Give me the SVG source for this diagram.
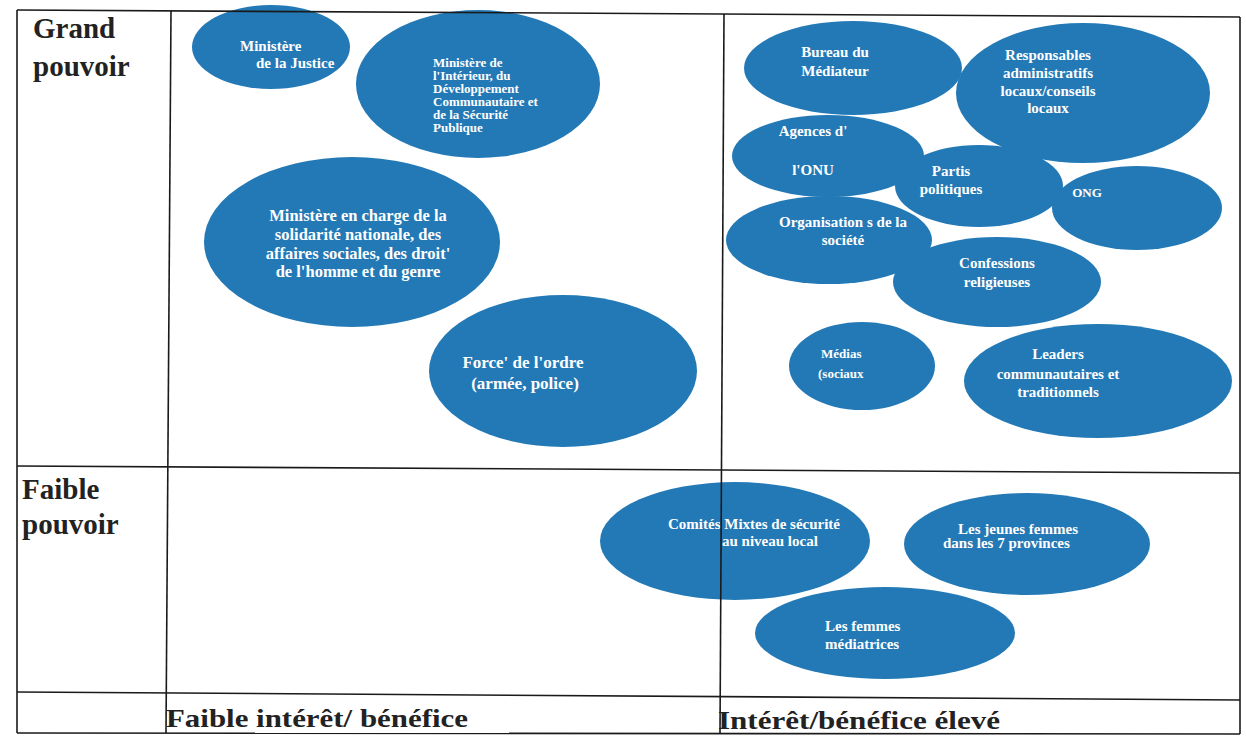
<svg xmlns="http://www.w3.org/2000/svg" width="1246" height="737" viewBox="0 0 1246 737">
<style>
.n{fill:#2379b5}
.t{fill:#fff;font-family:"Liberation Serif","Times New Roman","DejaVu Serif",serif;font-weight:bold;font-size:15px}
.c{text-anchor:middle}
.s13{font-size:13px}
.s16{font-size:16.5px}
.s17{font-size:17px}
.h{fill:#222;font-family:"Liberation Serif","Times New Roman","DejaVu Serif",serif;font-weight:bold;font-size:29px}
.f{fill:#222;font-family:"Liberation Serif","Times New Roman","DejaVu Serif",serif;font-weight:bold;font-size:25px}
.g line{stroke:#1a1a1a;stroke-width:1.6}
</style>
<rect width="1246" height="737" fill="#fff"/>
<g id="n1"><ellipse class="n" cx="271" cy="47" rx="79" ry="42"/><text class="t" x="240" y="51">Ministère</text><text class="t" x="256" y="68">de la Justice</text></g>
<g id="n2"><ellipse class="n" cx="478" cy="84" rx="122" ry="74"/><text class="t s13" x="433" y="67">Ministère  de</text><text class="t s13" x="433" y="80">l'Intérieur, du</text><text class="t s13" x="433" y="93">Développement</text><text class="t s13" x="433" y="106">Communautaire et</text><text class="t s13" x="433" y="119">de la Sécurité</text><text class="t s13" x="433" y="132">Publique</text></g>
<g id="n3"><ellipse class="n" cx="352" cy="242" rx="148" ry="85"/><text class="t c s16" x="358" y="221">Ministère en charge de la</text><text class="t c s16" x="358" y="240">solidarité nationale, des</text><text class="t c s16" x="358" y="259">affaires sociales, des droit'</text><text class="t c s16" x="358" y="277">de l'homme et du genre</text></g>
<g id="n4"><ellipse class="n" cx="563" cy="371" rx="134" ry="76"/><text class="t c s17" x="523" y="368">Force' de l'ordre</text><text class="t c s17" x="525" y="389">(armée, police)</text></g>
<g id="n5"><ellipse class="n" cx="853" cy="68" rx="109" ry="47"/><text class="t c" x="835" y="57">Bureau du</text><text class="t c" x="835" y="76">Médiateur</text></g>
<g id="n6"><ellipse class="n" cx="1083" cy="93" rx="127" ry="70"/><text class="t c" x="1048" y="60">Responsables</text><text class="t c" x="1048" y="78">administratifs</text><text class="t c" x="1048" y="96">locaux/conseils</text><text class="t c" x="1048" y="113">locaux</text></g>
<g id="n7"><ellipse class="n" cx="828" cy="156" rx="96" ry="41"/><text class="t c" x="813" y="136">Agences d'</text><text class="t c" x="813" y="175">l'ONU</text></g>
<g id="n8"><ellipse class="n" cx="979" cy="186" rx="84" ry="41"/><text class="t c" x="951" y="176">Partis</text><text class="t c" x="951" y="194">politiques</text></g>
<g id="n9"><ellipse class="n" cx="1137" cy="208" rx="85" ry="42"/><text class="t c s13" x="1087" y="197">ONG</text></g>
<g id="n10"><ellipse class="n" cx="829" cy="240" rx="103" ry="44"/><text class="t c" x="843" y="227">Organisation s de la</text><text class="t c" x="843" y="245">société</text></g>
<g id="n11"><ellipse class="n" cx="997" cy="282" rx="104" ry="45"/><text class="t c" x="997" y="268">Confessions</text><text class="t c" x="997" y="287">religieuses</text></g>
<g id="n12"><ellipse class="n" cx="862" cy="366" rx="73" ry="44"/><text class="t s13" x="821" y="358">Médias</text><text class="t s13" x="818" y="378">(sociaux</text></g>
<g id="n13"><ellipse class="n" cx="1098" cy="381" rx="134" ry="57"/><text class="t c" x="1058" y="359">Leaders</text><text class="t c" x="1058" y="379">communautaires et</text><text class="t c" x="1058" y="397">traditionnels</text></g>
<g id="n14"><ellipse class="n" cx="735" cy="541" rx="135" ry="59"/><text class="t" x="668" y="529">Comités Mixtes de sécurité</text><text class="t" x="722" y="546">au niveau local</text></g>
<g id="n15"><ellipse class="n" cx="1027" cy="544" rx="123" ry="51"/><text class="t" x="958" y="534">Les jeunes femmes</text><text class="t" x="943" y="548">dans les 7 provinces</text></g>
<g id="n16"><ellipse class="n" cx="885" cy="633" rx="130" ry="46"/><text class="t" x="825" y="631">Les femmes</text><text class="t" x="825" y="649">médiatrices</text></g>
<g id="grid" class="g">
<line x1="17" y1="10" x2="1240" y2="17"/>
<line x1="17" y1="466" x2="1240" y2="473"/>
<line x1="17" y1="692" x2="1240" y2="700"/>
<line x1="17" y1="733" x2="1240" y2="734"/>
<line x1="17" y1="10" x2="17" y2="733"/>
<line x1="171" y1="11" x2="166" y2="733"/>
<line x1="724" y1="14" x2="720" y2="734"/>
<line x1="1240" y1="17" x2="1240" y2="734"/>
</g>
<g id="labels">
<text class="h" x="33" y="38">Grand</text>
<text class="h" x="33" y="76">pouvoir</text>
<text class="h" x="22" y="499">Faible</text>
<text class="h" x="22" y="534">pouvoir</text>
<text class="f" x="166" y="727" textLength="302" lengthAdjust="spacingAndGlyphs">Faible intérêt/ bénéfice</text>
<text class="f" x="718" y="729" textLength="282" lengthAdjust="spacingAndGlyphs">Intérêt/bénéfice élevé</text>
</g>
</svg>
